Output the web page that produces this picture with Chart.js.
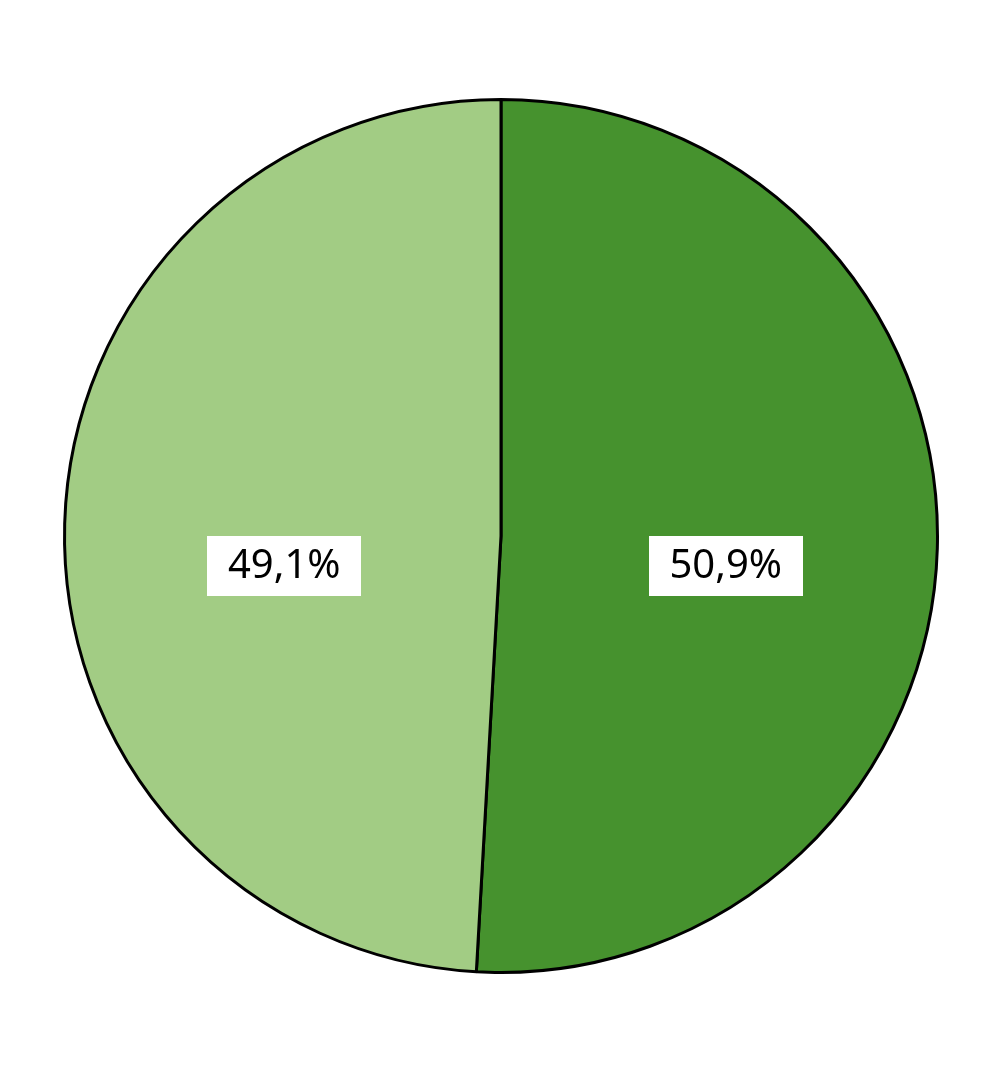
<!DOCTYPE html>
<html lang="de">
<head>
    <meta charset="UTF-8">
    <title>Pie</title>
    <style>
        html, body { margin: 0; padding: 0; background: #ffffff; }
        #wrap { width: 1000px; height: 1071px; }
    </style>
    <script src="https://cdn.jsdelivr.net/npm/chart.js"></script>
</head>
<body>
<div id="wrap"><canvas id="mychart" width="1000" height="1071"></canvas></div>
<script>
    // values (percent)
    const categories = ['A', 'B'];
    const shares = [50.9, 49.1];
    const labels = ['50,9%', '49,1%'];
    const colors = ['#46922e', '#a2cc84'];

    // white boxes with the percentage in each slice
    const boxLabels = {
        id: 'boxLabels',
        afterDatasetsDraw(chart) {
            const ctx = chart.ctx;
            const arcs = chart.getDatasetMeta(0).data;
            ctx.save();
            ctx.font = '40px "Noto Sans"';
            ctx.textAlign = 'center';
            ctx.textBaseline = 'middle';
            arcs.forEach((arc, i) => {
                const p = arc.getProps(['x', 'y', 'startAngle', 'endAngle', 'outerRadius'], true);
                const mid = (p.startAngle + p.endAngle) / 2;
                const k = p.outerRadius * 0.506;
                const x = p.x + Math.cos(mid) * k + 4;
                const y = p.y + 30;
                ctx.fillStyle = '#ffffff';
                ctx.fillRect(Math.round(x - 77), Math.round(y - 30), 154, 60);
                ctx.fillStyle = '#000000';
                ctx.fillText(labels[i], x, y + 1);
            });
            ctx.restore();
        }
    };

    new Chart(document.getElementById('mychart'), {
        type: 'pie',
        data: {
            labels: categories,
            datasets: [{
                data: shares,
                backgroundColor: colors,
                borderColor: '#000000',
                borderWidth: 3,
                borderAlign: 'center'
            }]
        },
        options: {
            responsive: false,
            animation: false,
            layout: { padding: { left: 62, right: 60, top: 98, bottom: 97 } },
            plugins: {
                legend: { display: false },
                tooltip: { enabled: false }
            }
        },
        plugins: [boxLabels]
    });
</script>
</body>
</html>
